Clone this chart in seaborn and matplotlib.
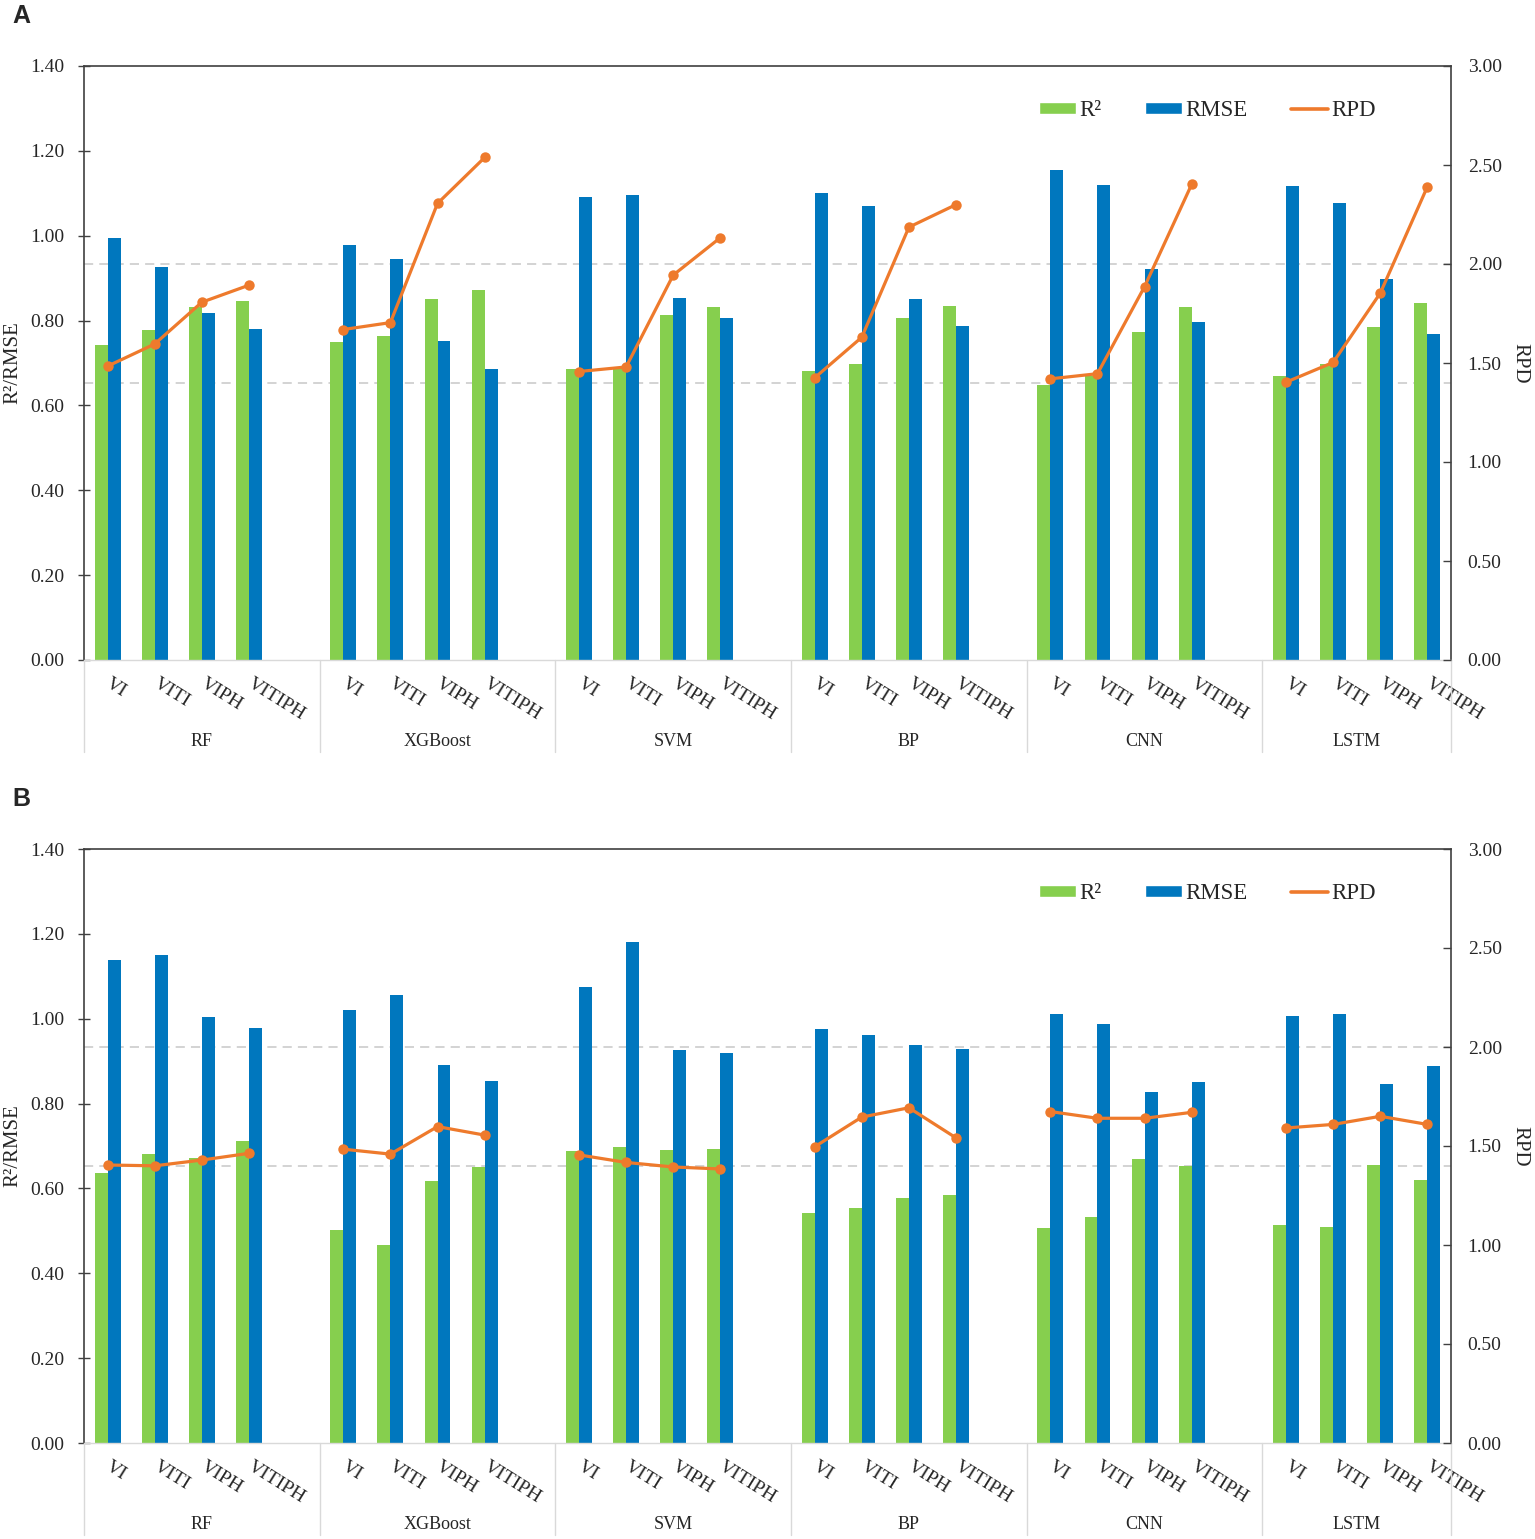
import numpy as np
import pandas as pd
import seaborn as sns
import matplotlib.pyplot as plt
import matplotlib.transforms as mtransforms
from matplotlib.patches import Patch
from matplotlib.lines import Line2D

# Categories
models = ["RF", "XGBoost", "SVM", "BP", "CNN", "LSTM"]
features = ["VI", "VITI", "VIPH", "VITIPH"]

# Panel A values
a_r2 = [0.742, 0.778, 0.832, 0.847, 0.749, 0.763, 0.850, 0.873,
        0.685, 0.688, 0.814, 0.831, 0.680, 0.697, 0.807, 0.835,
        0.649, 0.670, 0.774, 0.831, 0.669, 0.698, 0.785, 0.842]
a_rmse = [0.994, 0.926, 0.817, 0.779, 0.977, 0.945, 0.753, 0.687,
          1.091, 1.095, 0.854, 0.806, 1.101, 1.070, 0.850, 0.788,
          1.154, 1.120, 0.921, 0.796, 1.118, 1.077, 0.899, 0.769]
a_rpd = [1.484, 1.596, 1.807, 1.893, 1.669, 1.704, 2.306, 2.538,
         1.457, 1.480, 1.944, 2.133, 1.425, 1.630, 2.186, 2.300,
         1.420, 1.446, 1.886, 2.403, 1.403, 1.503, 1.853, 2.391]

# Panel B values
b_r2 = [0.637, 0.681, 0.672, 0.711, 0.501, 0.466, 0.617, 0.650,
        0.689, 0.697, 0.690, 0.692, 0.541, 0.554, 0.577, 0.585,
        0.507, 0.532, 0.670, 0.652, 0.513, 0.509, 0.656, 0.620]
b_rmse = [1.139, 1.151, 1.004, 0.979, 1.020, 1.056, 0.892, 0.853,
          1.074, 1.181, 0.926, 0.919, 0.976, 0.962, 0.938, 0.929,
          1.012, 0.988, 0.828, 0.851, 1.006, 1.011, 0.846, 0.888]
b_rpd = [1.404, 1.400, 1.429, 1.463, 1.484, 1.459, 1.598, 1.555,
         1.455, 1.417, 1.394, 1.384, 1.496, 1.646, 1.693, 1.541,
         1.674, 1.640, 1.640, 1.670, 1.591, 1.609, 1.650, 1.609]

# RPD reference thresholds (dashed lines)
rpd_thresholds = [1.4, 2.0]

green = "#86CF4E"
blue = "#0077BE"
orange = "#EE7A2C"
light = "#D9D9D9"
dark = "#404040"

sns.set_style("white")
plt.rcParams['font.family'] = ['Liberation Serif', 'DejaVu Serif']

W, H = 1535, 1539
fig = plt.figure(figsize=(W / 100, H / 100), dpi=100)

# one blank slot between model groups
slot = len(features) + 1
pos = [g * slot + i for g in range(len(models)) for i in range(len(features))]
xmin, xmax = -0.5, pos[-1] + 0.5
seps = [xmin] + [g * slot - 0.5 for g in range(1, len(models))] + [xmax]

panels = [("A", 66, a_r2, a_rmse, a_rpd), ("B", 849, b_r2, b_rmse, b_rpd)]

for letter, top, r2, rmse, rpd in panels:
    ax = fig.add_axes([84 / W, 1 - (top + 594) / H, 1367 / W, 594 / H])

    bars = pd.DataFrame({
        "pos": pos * 2,
        "value": r2 + rmse,
        "metric": ["R²"] * len(r2) + ["RMSE"] * len(rmse),
    })
    sns.barplot(data=bars, x="pos", y="value", hue="metric", native_scale=True,
                width=0.55, palette=[green, blue], saturation=1, errorbar=None,
                legend=False, ax=ax, zorder=2, linewidth=0, edgecolor="none")

    for t in rpd_thresholds:
        ax.axhline(t * 1.4 / 3.0, color="#C8C8C8", lw=1.1, ls=(0, (6, 4)), zorder=1)

    ax.set_xlim(xmin, xmax)
    ax.set_ylim(0, 1.4)
    ax.set_yticks(np.arange(0, 1.41, 0.2))
    ax.set_yticklabels([f"{v:.2f}" for v in np.arange(0, 1.41, 0.2)], fontsize=14)
    ax.set_xticks(pos)
    ax.set_xticklabels(features * len(models), fontsize=14, rotation=-32,
                       ha="left", va="center", rotation_mode="anchor")
    ax.tick_params(axis="x", length=0, pad=16)
    ax.tick_params(axis="y", direction="inout", length=8, width=1, color=dark, pad=10)
    ax.set_xlabel("")
    ax.set_ylabel("R²/RMSE", fontsize=15, labelpad=6)

    for s in ["top", "left", "right"]:
        ax.spines[s].set_color(dark)
        ax.spines[s].set_linewidth(1.2)
    ax.spines["bottom"].set_color(light)
    ax.spines["bottom"].set_linewidth(1.0)

    ax2 = ax.twinx()
    line = pd.DataFrame({
        "pos": pos,
        "rpd": rpd,
        "model": [m for m in models for _ in features],
    })
    sns.lineplot(data=line, x="pos", y="rpd", units="model", estimator=None,
                 color=orange, lw=2.3, marker="o", markersize=7.5,
                 markeredgewidth=0, legend=False, ax=ax2)
    ax2.set_ylim(0, 3.0)
    ax2.set_xlim(xmin, xmax)
    ax2.set_yticks(np.arange(0, 3.01, 0.5))
    ax2.set_yticklabels([f"{v:.2f}" for v in np.arange(0, 3.01, 0.5)], fontsize=14)
    ax2.tick_params(axis="y", direction="in", length=6, width=1, color=dark, pad=12)
    ax2.set_xlabel("")
    ax2.set_ylabel("RPD", fontsize=15, rotation=270, labelpad=20)
    for s in ax2.spines.values():
        s.set_visible(False)

    # group separators and model names under the category labels
    trans = mtransforms.blended_transform_factory(ax.transData, ax.transAxes)
    for s in seps:
        ax.plot([s, s], [0, -0.155], transform=trans, clip_on=False,
                color=light, lw=1.0)
    for left, right, m in zip(seps[:-1], seps[1:], models):
        ax.text((left + right) / 2, -0.137, m, transform=trans,
                ha="center", va="center", fontsize=13)

    handles = [Patch(facecolor=green, label="R²"),
               Patch(facecolor=blue, label="RMSE"),
               Line2D([0], [0], color=orange, lw=2.6, label="RPD")]
    ax2.legend(handles=handles, loc="center right", bbox_to_anchor=(0.96, 0.925),
               ncol=3, frameon=False, fontsize=16.5, handlelength=1.6,
               handleheight=0.45, handletextpad=0.15, columnspacing=1.9)

    fig.text(21 / W, 1 - (top - 50) / H, letter, family="Liberation Sans",
             fontweight="bold", fontsize=18, ha="center", va="center")

fig.savefig("out.png", dpi=100)
